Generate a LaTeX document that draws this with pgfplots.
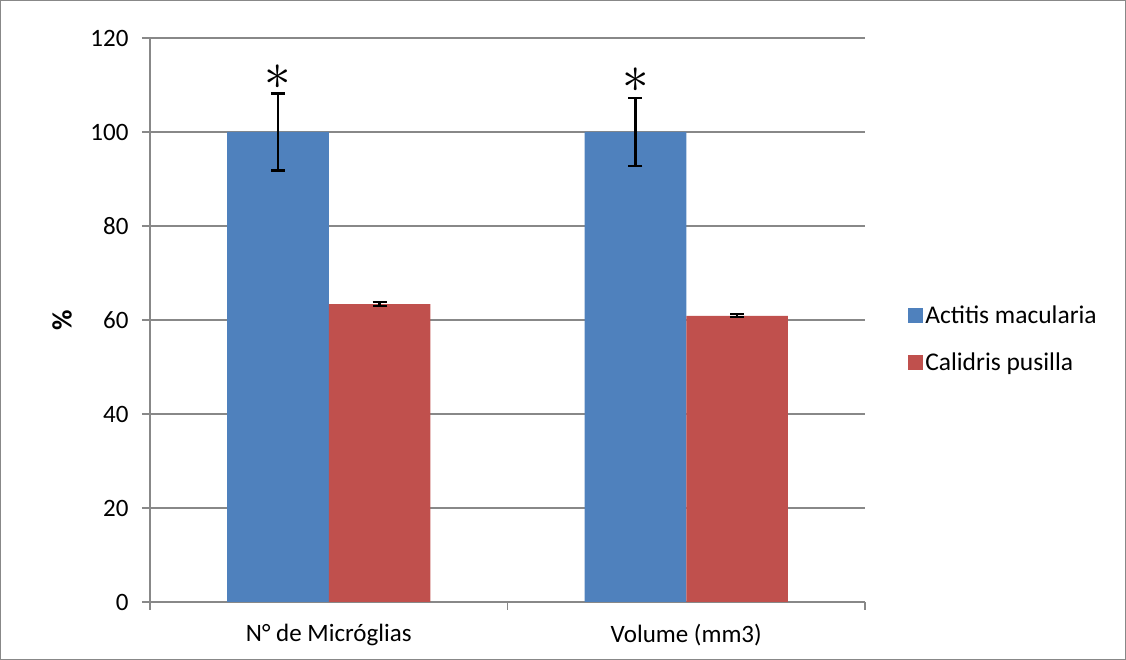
\documentclass[border=0pt]{standalone}
\usepackage{fontspec}
\setmainfont{Carlito}
\usepackage{pgfplots}
\pgfplotsset{compat=1.18}
\definecolor{cblue}{HTML}{4F81BD}
\definecolor{cred}{HTML}{C0504D}
\definecolor{gridgray}{HTML}{888888}
\begin{document}
\begin{tikzpicture}
\begin{axis}[
  at={(0pt,0pt)}, anchor=origin,
  scale only axis,
  width=715pt, height=564pt,
  xmin=0, xmax=2, ymin=0, ymax=120,
  axis x line=bottom, axis y line=left,
  axis line style={gridgray, line width=1.2pt, -},
  xtick={0,1,2},
  xticklabels={N° de Micróglias, Volume (mm3)},
  x tick label as interval=true,
  ytick={0,20,...,120},
  tick align=outside,
  major tick length=8pt,
  tick style={gridgray, line width=1.2pt},
  ymajorgrids=true,
  grid style={gridgray, line width=1.2pt},
  /pgf/number format/assume math mode=true,
  tick label style={font=\fontsize{25}{30}\selectfont, text=black},
  yticklabel style={xshift=-10pt},
  xticklabel style={yshift=-11pt},
  ylabel={\textbf{\%}},
  ylabel style={font=\fontsize{28}{30}\selectfont, at={(-88pt,282pt)}, anchor=center, rotate=0},
  legend style={at={(1.056,0.466)}, anchor=west, draw=none, fill=none,
     font=\fontsize{25.5}{30}\selectfont, row sep=24pt,
     /tikz/every even column/.append style={column sep=6pt}},
  legend cell align=left,
  ybar, bar width=0.284,
  clip=false,
]
\addplot[fill=cblue, draw=none, bar shift=-0.142,
  legend image code/.code={\fill[cblue] (0pt,-7pt) rectangle (15pt,8pt);},
  error bars/.cd, y dir=both, y explicit,
  error bar style={black, line width=2.2pt},
  error mark options={black, rotate=90, mark size=7pt, line width=2.2pt}]
  coordinates {(0.5,100) +- (0,8.2) (1.5,100) +- (0,7.3)};
\addlegendentry{Actitis macularia}
\addplot[fill=cred, draw=none, bar shift=0.142,
  legend image code/.code={\fill[cred] (0pt,-7pt) rectangle (15pt,8pt);},
  error bars/.cd, y dir=both, y explicit,
  error bar style={black, line width=2.2pt},
  error mark options={black, rotate=90, mark size=7pt, line width=2.2pt}]
  coordinates {(0.5,63.4) +- (0,0.4) (1.5,60.9) +- (0,0.3)};
\addlegendentry{Calidris pusilla}
\node[anchor=south, inner sep=0pt] at (axis cs:0.358,109.0) {\scalebox{5.3}{$\ast$}};
\node[anchor=south, inner sep=0pt] at (axis cs:1.358,108.3) {\scalebox{5.3}{$\ast$}};
\end{axis}
\draw[gridgray, line width=1pt] (-149.5pt,-57.5pt) rectangle (975.5pt,601.5pt);
\end{tikzpicture}
\end{document}
